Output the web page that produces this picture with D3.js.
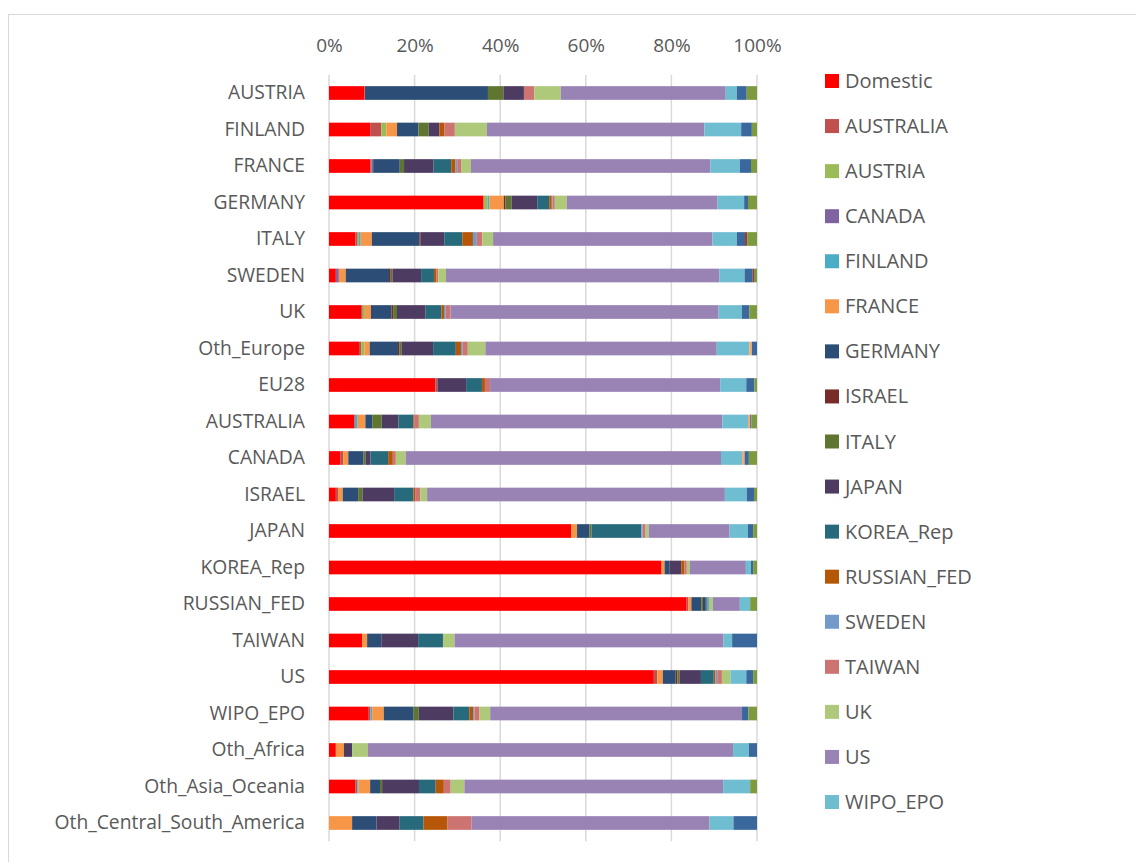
<!DOCTYPE html>
<html>
<head>
<meta charset="utf-8">
<script src="https://cdn.jsdelivr.net/npm/d3@7"></script>
<style>
  html, body { margin: 0; padding: 0; background: #ffffff; }
  svg { display: block; }
  text { font-family: "Open Sans", "Noto Sans", sans-serif; fill: #595959; }
</style>
</head>
<body>
<svg id="chart" width="1136" height="862"></svg>
<script>
// ---- data ----
const categories = ["AUSTRIA","FINLAND","FRANCE","GERMANY","ITALY","SWEDEN","UK","Oth_Europe","EU28",
  "AUSTRALIA","CANADA","ISRAEL","JAPAN","KOREA_Rep","RUSSIAN_FED","TAIWAN","US","WIPO_EPO",
  "Oth_Africa","Oth_Asia_Oceania","Oth_Central_South_America"];

const seriesNames = ["Domestic","AUSTRALIA","AUSTRIA","CANADA","FINLAND","FRANCE","GERMANY","ISRAEL","ITALY",
  "JAPAN","KOREA_Rep","RUSSIAN_FED","SWEDEN","TAIWAN","UK","US","WIPO_EPO",
  "Oth_Africa","Oth_Asia_Oceania","Oth_Central_South_America","Oth_Europe"];

const seriesColors = ["#FF0000","#C0504D","#9BBB59","#8064A2","#4BACC6","#F79646","#2C4D75","#772C2A","#5F7530",
  "#4D3B62","#276A7C","#B65708","#729ACA","#CD7371","#AFC97A","#9983B5","#6FBDD1",
  "#F9AB6B","#3A679C","#9E3B38","#7E9A3F"];

// number of legend entries visible (legend is cut off in the original)
const legendVisible = 17;

const tickValues = [0, 0.2, 0.4, 0.6, 0.8, 1.0];

// shares (%) per origin, in seriesNames order
const rowAUSTRIA     = [8.3,0.1,0,0,0,0,28.7,0,3.6,4.8,0,0,0,2.4,6.2,38.5,2.6,0,2.3,0,2.4];
const rowFINLAND     = [9.6,2.6,1.2,0,0,2.5,5.0,0,2.4,2.5,0,1.2,0,2.4,7.5,50.8,8.6,0,2.5,0,1.2];
const rowFRANCE      = [9.6,0.3,0,0.4,0,0,6.2,0,1.0,6.9,4.1,1.0,0.4,0.9,2.3,55.8,6.9,0,2.6,0,1.4];
const rowGERMANY     = [36.1,0,0.9,0,0.4,3.4,0,0.4,1.4,6.0,2.8,0.6,0.2,0.5,2.8,35.2,6.2,0,0.9,0,2.1];
const rowITALY       = [6.2,0.5,0.3,0,0.4,2.6,11.1,0.3,0,5.5,4.2,2.5,0.9,1.3,2.5,51.2,5.7,0,1.9,0.5,2.3];
const rowSWEDEN      = [1.6,0,0,0.7,0,1.6,10.1,0.4,0.4,6.7,3.0,0.6,0,0.4,1.8,63.8,5.9,0,1.9,0.3,0.7];
const rowUK          = [7.5,0.4,0.5,0,0,1.4,4.8,0.4,0.9,6.7,3.7,0.6,0.4,1.1,0,62.7,5.5,0,1.7,0,1.8];
const rowOthEurope   = [7.0,0.5,0.8,0,0,1.2,6.6,0.3,0.5,7.4,5.3,1.2,0.4,1.2,4.1,54.0,7.6,0.6,1.2,0,0];
const rowEU28        = [24.8,0.5,0,0,0,0,0,0,0,6.7,3.7,0.7,0,1.2,0,53.7,6.1,0,1.9,0,0.6];
const rowAUSTRALIA   = [6.0,0,0,0,0.7,1.8,1.6,0,2.2,3.9,3.5,0.2,0,1.1,2.8,68.1,6.0,0.5,0.3,0,1.3];
const rowCANADA      = [2.6,0.7,0,0,0,1.2,3.5,0,0.5,1.2,4.1,1.1,0,0.7,2.3,73.6,4.9,0.6,1.0,0,1.9];
const rowISRAEL      = [1.6,0.5,0,0,0,1.1,3.6,0,1.0,7.4,4.5,0.4,0,1.2,1.6,69.5,5.1,0,1.7,0,0.7];
const rowJAPAN       = [56.5,0,0,0,0,1.4,2.9,0,0.5,0,11.6,0,0.3,0.7,0.7,18.9,4.3,0,1.2,0,0.9];
const rowKOREA       = [77.7,0,0,0,0,0.7,1.1,0,0,2.8,0,0.7,0,0.6,0.7,13.1,1.2,0,0.5,0,0.9];
const rowRUSSIA      = [83.4,0.4,0,0,0,0.7,2.3,0,0.4,0.5,0.4,0,0.5,0,0.9,6.3,2.4,0,0,0,1.6];
const rowTAIWAN      = [7.7,0,0,0,0,1.2,3.3,0,0,8.6,5.8,0,0,0,2.7,62.8,2.0,0,5.8,0,0];
const rowUS          = [75.9,0.8,0,0,0,1.3,3.0,0.4,0.5,5.0,3.0,0.4,0.4,1.1,2.0,0,3.7,0,1.6,0,0.9];
const rowWIPO        = [9.3,0.4,0,0,0.4,2.7,7.0,0,1.2,8.1,3.7,0.9,0.3,1.2,2.5,58.9,0,0,1.5,0,2.0];
const rowOthAfrica   = [1.6,0,0,0,0,1.9,0,0,0,1.9,0,0,0,0,3.7,85.4,3.7,0,1.9,0,0];
const rowOthAsia     = [6.2,0.4,0,0,0.3,2.7,2.3,0,0.5,8.6,3.9,1.9,0,1.6,3.2,60.4,6.3,0,0,0,1.6];
const rowOthCSAm     = [0,0,0,0,0,5.4,5.7,0,0,5.4,5.6,5.6,0,5.6,0,55.6,5.6,0,5.5,0,0];

const rows = [rowAUSTRIA,rowFINLAND,rowFRANCE,rowGERMANY,rowITALY,rowSWEDEN,rowUK,rowOthEurope,rowEU28,
  rowAUSTRALIA,rowCANADA,rowISRAEL,rowJAPAN,rowKOREA,rowRUSSIA,rowTAIWAN,rowUS,rowWIPO,
  rowOthAfrica,rowOthAsia,rowOthCSAm];

// ---- build table ----
const table = categories.map((c, i) => {
  const o = { category: c };
  seriesNames.forEach((s, j) => { o[s] = rows[i][j]; });
  return o;
});

const stacked = d3.stack().keys(seriesNames).offset(d3.stackOffsetExpand)(table);

// ---- layout ----
const svg = d3.select("#chart");
const plot = { left: 329, right: 757, top: 74.75, bottom: 841.25 };

const x = d3.scaleLinear().domain([0, 1]).range([plot.left, plot.right]);
const y = d3.scaleBand().domain(categories).range([plot.top, plot.bottom]).paddingInner(0.625).paddingOuter(0.3125);
const color = d3.scaleOrdinal().domain(seriesNames).range(seriesColors);

// frame
svg.append("rect").attr("x", 8.5).attr("y", 14.5).attr("width", 1140).attr("height", 870)
  .attr("fill", "none").attr("stroke", "#d9d9d9").attr("stroke-width", 1);

// gridlines
svg.append("g").selectAll("line").data(tickValues).join("line")
  .attr("x1", d => x(d)).attr("x2", d => x(d))
  .attr("y1", plot.top).attr("y2", plot.bottom)
  .attr("stroke", "#d9d9d9").attr("stroke-width", 1.5);

// top axis labels
const axis = d3.axisTop(x).tickValues(tickValues).tickFormat(d3.format(".0%")).tickSize(0).tickPadding(0);
const gAxis = svg.append("g").attr("transform", `translate(0,52)`).call(axis);
gAxis.select(".domain").remove();
gAxis.selectAll("text").attr("font-size", "19px").attr("fill", "#595959")
  .attr("font-family", "'Open Sans', sans-serif").attr("dy", "0");

// bars
svg.append("g").selectAll("g").data(stacked).join("g")
  .attr("fill", d => color(d.key))
  .selectAll("rect").data(d => d).join("rect")
  .attr("x", d => x(d[0]))
  .attr("width", d => Math.max(0, x(d[1]) - x(d[0])))
  .attr("y", d => y(d.data.category))
  .attr("height", y.bandwidth());

// category labels
const yAxis = d3.axisLeft(y).tickSize(0).tickPadding(24);
const gY = svg.append("g").attr("transform", `translate(${plot.left},0)`).call(yAxis);
gY.select(".domain").remove();
gY.selectAll("text").attr("font-size", "19.3px").attr("fill", "#595959")
  .attr("font-family", "'Open Sans', sans-serif");

// legend
const legendData = seriesNames.slice(0, legendVisible);
const legendY = d3.scalePoint().domain(legendData).range([81, 802]);
const lg = svg.append("g").selectAll("g").data(legendData).join("g")
  .attr("transform", d => `translate(825,${legendY(d)})`);
lg.append("rect").attr("x", 0).attr("y", -7).attr("width", 14).attr("height", 14)
  .attr("fill", d => color(d));
lg.append("text").attr("x", 20).attr("y", 0).attr("dy", "0.35em")
  .attr("font-size", "20px").text(d => d);
</script>
</body>
</html>
